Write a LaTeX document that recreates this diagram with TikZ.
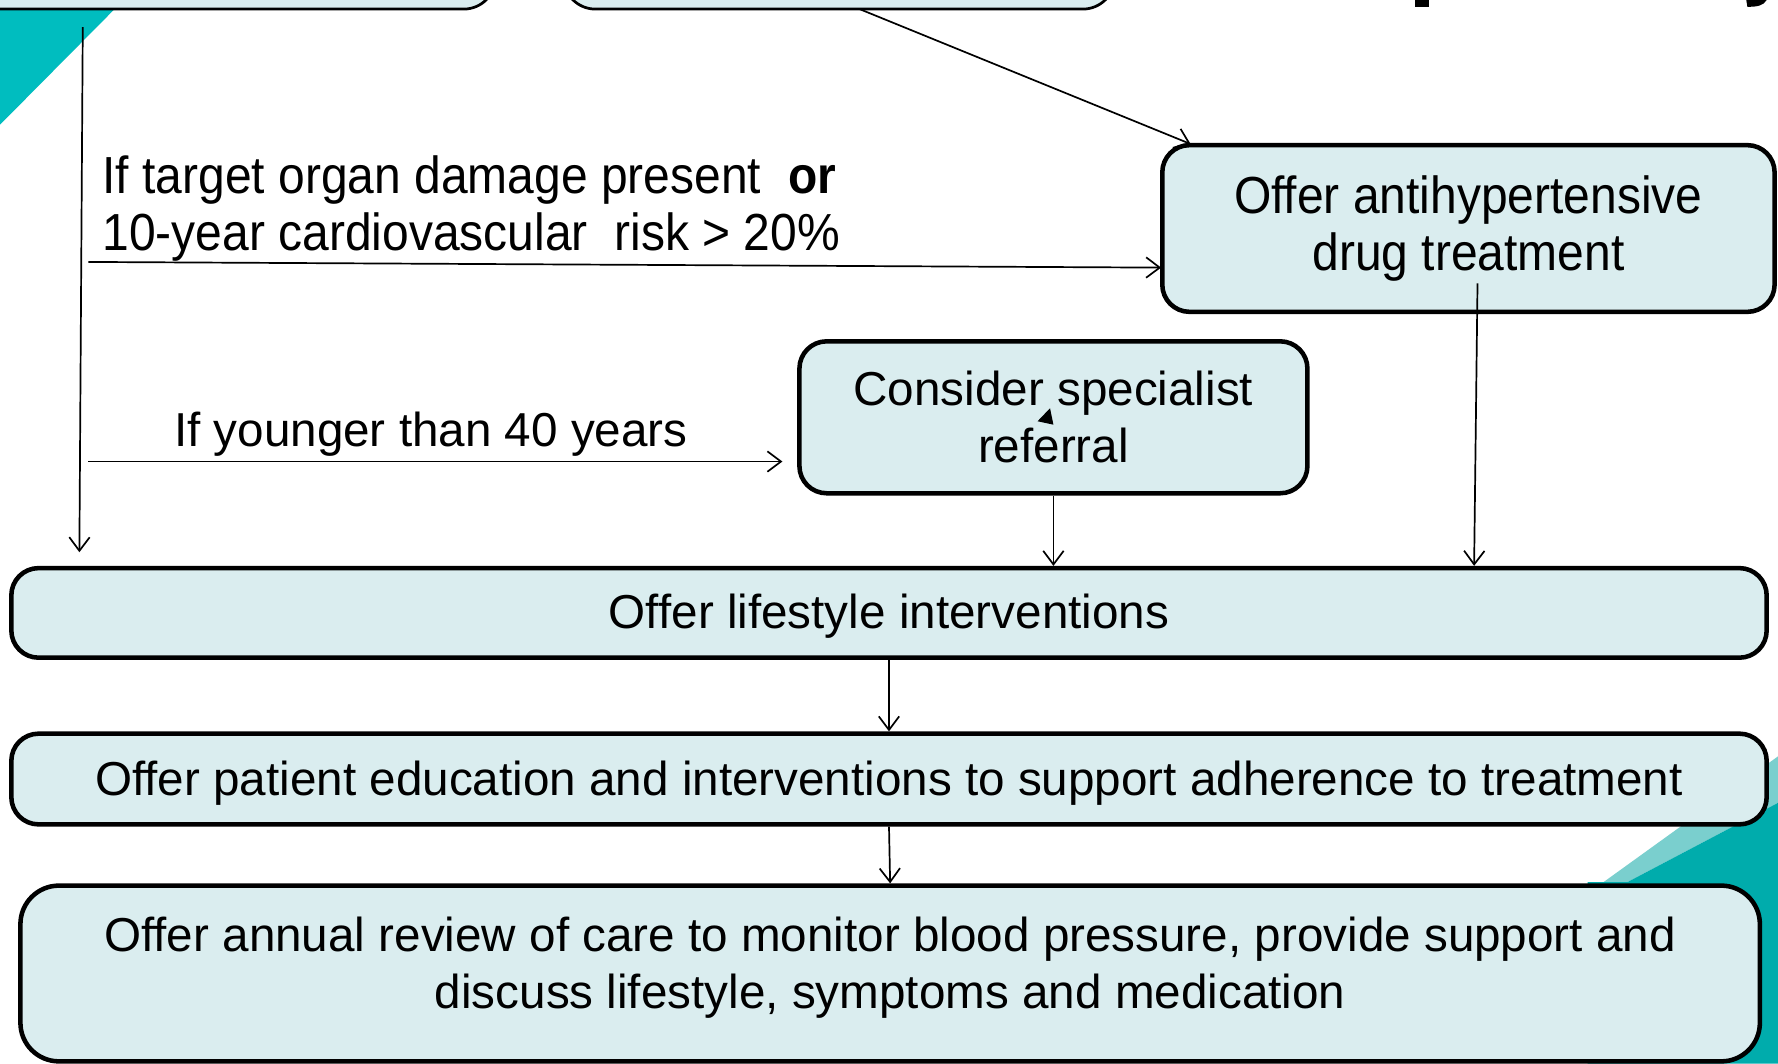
\documentclass[tikz,border=0pt]{standalone}
\usepackage{fontspec}
\setmainfont{Liberation Sans}
\newfontfamily\narrowfont[FakeStretch=0.92]{Liberation Sans}
\usetikzlibrary{arrows.meta}
\definecolor{boxfill}{RGB}{218,237,239}
\definecolor{tealdark}{RGB}{0,172,172}
\definecolor{teallight}{RGB}{122,207,206}
\definecolor{tealtop}{RGB}{0,189,191}
\newcommand{\lowertext}[2]{\raisebox{#1}[\height][\depth]{#2}}
\begin{document}
\begin{tikzpicture}[x=0.5pt,y=-0.5pt,
  flowbox/.style={draw=black, line width=2pt, fill=boxfill, rounded corners=12pt,
    align=center, inner sep=0pt, font=\fontsize{21}{25}\selectfont},
  topbox/.style={draw=black, line width=1.2pt, fill=boxfill, rounded corners=14pt, inner sep=0pt},
  conn/.style={line width=0.75pt, -{Straight Barb[length=6pt,width=9pt,line width=0.75pt]}},
  lbl/.style={inner sep=0pt, align=left, font=\fontsize{21}{25}\selectfont},
  frag/.style={fill=black}]
\useasboundingbox (0,0) rectangle (1568,938);
\clip (0,0) rectangle (1568,938);
\fill[white] (0,0) rectangle (1568,938);
% background decoration
\fill[tealtop] (0,0) -- (109,0) -- (0,110) -- cycle;
\fill[teallight] (1568,667) -- (1414,778) -- (1435,778) -- (1568,708) -- cycle;
\fill[tealdark] (1568,708) -- (1435,778) -- (1400,778) -- (1400,938) -- (1568,938) -- cycle;
% title fragments
\fill[frag] (1248,0) rectangle (1260,6);
\fill[frag] (1540,0) -- (1558,0) .. controls (1555,5) and (1550,6) .. (1541,6) -- cycle;
% top boxes (cut off)
\node[topbox, minimum width=238.5pt, minimum height=44pt] (tl) at (198.5,-36) {};
\node[topbox, minimum width=243pt, minimum height=44pt] (tm) at (740,-36) {};
% flow boxes
\node[flowbox, minimum width=270pt, minimum height=73.5pt,
  font=\narrowfont\fontsize{23}{25}\selectfont] (anti) at (1295,201.5)
  {Offer antihypertensive\\drug treatment};
\node[flowbox, minimum width=224pt, minimum height=67pt] (ref) at (929,368)
  {Consider specialist\\referral};
\node[flowbox, minimum width=774pt, minimum height=39.5pt] (life) at (784,540.5)
  {\lowertext{-1.6pt}{Offer lifestyle interventions}};
\node[flowbox, minimum width=774pt, minimum height=40pt] (edu) at (784,687)
  {\lowertext{-1.8pt}{Offer patient education and interventions to support adherence to treatment}};
\node[flowbox, rounded corners=17pt, minimum width=767pt, minimum height=77.5pt] (annual) at (785,858.5)
  {\lowertext{2pt}{\begin{tabular}{@{}c@{}}Offer annual review of care to monitor blood pressure, provide support and\\discuss lifestyle, symptoms and medication\end{tabular}}};
% labels
\node[lbl, anchor=west, font=\narrowfont\fontsize{23}{25}\selectfont] (l1) at (90,184)
  {If target organ damage present\ \ \textbf{or}\\10-year cardiovascular\ \ risk > 20\%};
\node[lbl] (l2) at (380,383) {If younger than 40 years};
% connector end points
\coordinate (vs) at (73,24);
\coordinate (ve) at (70,487);
\coordinate (ds) at (758,8);
\coordinate (de) at (1050,127);
\coordinate (h1s) at (78,231);
\coordinate (h1e) at (1024,236);
\coordinate (h2s) at (78,407);
\coordinate (h2e) at (690,407);
\coordinate (as) at (1303,250);
\coordinate (ae) at (1300,499);
% connectors
\draw[conn] (vs) -- (ve);
\draw[conn] (ds) -- (de);
\draw[conn] (h1s) -- (h1e);
\draw[conn] (h2s) -- (h2e);
\draw[conn] (ref.south) -- (ref.south |- life.north);
\draw[conn] (as) -- (ae);
\draw[conn] (life.south) -- (edu.north);
\draw[conn] (edu.south) -- (annual.north);
% stray arrow tip inside the referral box
\fill[black] (926,360) -- (915,371.5) -- (929,374.5) -- cycle;
\end{tikzpicture}
\end{document}
